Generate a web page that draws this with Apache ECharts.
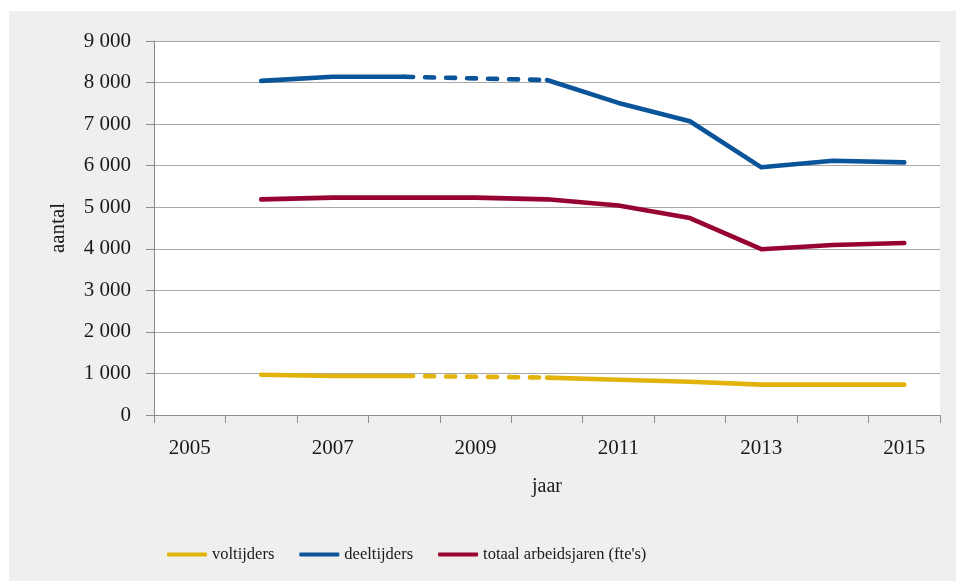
<!DOCTYPE html>
<html>
<head>
<meta charset="utf-8">
<script src="https://cdn.jsdelivr.net/npm/echarts@6/dist/echarts.min.js"></script>
<style>
html,body{margin:0;padding:0;background:#ffffff;}
#panel{position:absolute;left:9px;top:11px;width:947px;height:570px;background:#f0efed;}
#chart{position:absolute;left:0;top:0;width:956px;height:581px;}
</style>
</head>
<body>
<div id="panel"></div>
<div id="chart"></div>
<script>
// Categories
const years = ['2005','2006','2007','2008','2009','2010','2011','2012','2013','2014','2015'];
// Series values (null = no value that year; 2009 missing for voltijders/deeltijders)
const voltijders  = [null, 970, 940, 940, null, 900, 850, 800, 730, 730, 730];
const deeltijders = [null, 8040, 8140, 8140, null, 8060, 7510, 7070, 5960, 6120, 6080];
const totaal      = [null, 5190, 5230, 5230, 5230, 5190, 5040, 4740, 3990, 4090, 4140];
// Dashed bridge over the missing year (only existing endpoints, no interpolated point)
const voltijdersBridge  = [null, null, null, 940, null, 900, null, null, null, null, null];
const deeltijdersBridge = [null, null, null, 8140, null, 8060, null, null, null, null, null];
// Tick settings
const yMin = 0, yMax = 9000, yStep = 1000;
const seriesNames = ['voltijders', 'deeltijders', "totaal arbeidsjaren (fte's)"];

const FONT = 'Liberation Serif';
const cYellow = '#e2b30b', cBlue = '#0a5599', cRed = '#970431';

const chart = echarts.init(document.getElementById('chart'), null, {renderer: 'canvas'});
const lineBase = (color, dashed) => ({
  type: 'line', showSymbol: false, symbol: 'none', animation: false,
  lineStyle: {color: color, width: 4.6, cap: 'round', join: 'round', type: dashed ? [9, 12] : 'solid'},
  itemStyle: {color: color}
});
chart.setOption({
  animation: false,
  textStyle: {fontFamily: FONT},
  grid: {left: 154, top: 41, width: 786, height: 374, show: true, backgroundColor: '#ffffff', borderWidth: 0},
  legend: {
    left: 162, top: 541,
    data: seriesNames.map(n => ({name: n, icon: 'roundRect'})),
    itemWidth: 40, itemHeight: 4, itemGap: 25,
    textStyle: {fontFamily: FONT, fontSize: 16.5, color: '#1a1a1a'}
  },
  xAxis: {
    type: 'category', data: years, boundaryGap: true,
    name: 'jaar', nameLocation: 'middle', nameGap: 62,
    nameTextStyle: {fontFamily: FONT, fontSize: 20, color: '#1a1a1a'},
    axisLine: {show: true, lineStyle: {color: '#8c8c8c', width: 1}},
    axisTick: {show: true, interval: 0, length: 8, lineStyle: {color: '#8c8c8c'}},
    axisLabel: {interval: 1, margin: 23, fontFamily: FONT, fontSize: 21, color: '#1a1a1a'},
    splitLine: {show: false}
  },
  yAxis: {
    type: 'value', min: yMin, max: yMax, interval: yStep,
    name: 'aantal', nameLocation: 'middle', nameGap: 85, nameRotate: 90,
    nameTextStyle: {fontFamily: FONT, fontSize: 21, color: '#1a1a1a'},
    axisLine: {show: true, lineStyle: {color: '#8c8c8c', width: 1}},
    axisTick: {show: true, length: 8, lineStyle: {color: '#8c8c8c'}},
    axisLabel: {margin: 23, fontFamily: FONT, fontSize: 21, color: '#1a1a1a',
      formatter: v => String(v).replace(/\B(?=(\d{3})+(?!\d))/g, ' ')},
    splitLine: {show: true, lineStyle: {color: '#a8a8a8', width: 1}}
  },
  series: [
    Object.assign(lineBase(cYellow, false), {name: seriesNames[0], data: voltijders, connectNulls: false, z: 3}),
    Object.assign(lineBase(cBlue, false), {name: seriesNames[1], data: deeltijders, connectNulls: false, z: 3}),
    Object.assign(lineBase(cRed, false), {name: seriesNames[2], data: totaal, connectNulls: false, z: 3}),
    Object.assign(lineBase(cYellow, true), {name: 'voltijders_bridge', data: voltijdersBridge, connectNulls: true, z: 2}),
    Object.assign(lineBase(cBlue, true), {name: 'deeltijders_bridge', data: deeltijdersBridge, connectNulls: true, z: 2})
  ]
});
</script>
</body>
</html>
